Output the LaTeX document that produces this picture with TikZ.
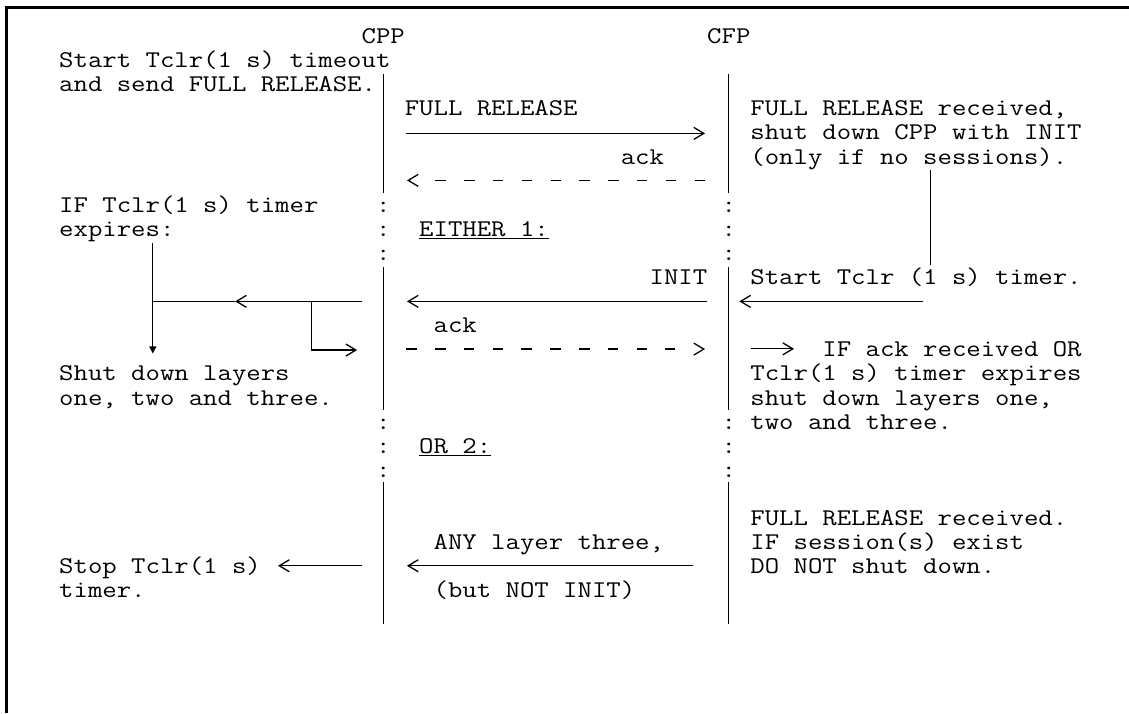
\documentclass[tikz,border=0pt]{standalone}
\usepackage{graphicx}
\usetikzlibrary{arrows.meta}
\newlength\chw
\AtBeginDocument{\settowidth{\chw}{\fontsize{24}{24}\selectfont\ttfamily M}\xdef\sx{\fpeval{14.4/\chw}}}
\newcommand\T[1]{\scalebox{\sx}[1]{#1}}
\tikzset{
  txt/.style={anchor=base west, inner sep=0pt, outer sep=0pt, font=\fontsize{24}{24}\selectfont\ttfamily},
  ln/.style={line width=1.2pt, line cap=butt},
  barb/.style={ln, -{Straight Barb[length=10pt,width=12pt,line width=1.3pt]}},
  dsh/.style={ln, dash pattern=on 10.5pt off 18.3pt},
  tri/.style={ln, -{Triangle[length=7pt,width=7pt]}},
  uline/.style={line width=1.5pt}
}
\begin{document}
\begin{tikzpicture}[x=1pt,y=1pt]
\useasboundingbox (0,0) rectangle (1129,-713);
\draw[line width=3pt] (6.2,-713) -- (6.2,-7.3) -- (1129,-7.3);
\begin{scope}[shift={(59.2pt,-43.5pt)}, x=14.4pt, y=-24.1pt]
% headers
\node[txt] (cpp) at (21,0) {\T{CPP}};
\node[txt] (cfp) at (45,0) {\T{CFP}};
% left column
\node[txt] (l1) at (0,1) {\T{Start Tclr(1 s) timeout}};
\node[txt] (l2) at (0,2) {\T{and send FULL RELEASE.}};
\node[txt] (l7) at (0,7) {\T{IF Tclr(1 s) timer}};
\node[txt] (l8) at (0,8) {\T{expires:}};
\node[txt] (l14) at (0,14) {\T{Shut down layers}};
\node[txt] (l15) at (0,15) {\T{one, two and three.}};
\node[txt] (l22) at (0,22) {\T{Stop Tclr(1 s)}};
\node[txt] (l23) at (0,23) {\T{timer.}};
% middle column
\node[txt] (m3) at (24,3) {\T{FULL RELEASE}};
\node[txt] (m5) at (39,5) {\T{ack}};
\node[txt] (m8) at (25,8) {\T{EITHER 1:}};
\node[txt] (m10) at (41,10) {\T{INIT}};
\node[txt] (m12) at (26,12) {\T{ack}};
\node[txt] (m17) at (25,17) {\T{OR 2:}};
\node[txt] (m21) at (26,21) {\T{ANY layer three,}};
\node[txt] (m23) at (26,23) {\T{(but NOT INIT)}};
% right column
\node[txt] (r3) at (48,3) {\T{FULL RELEASE received,}};
\node[txt] (r4) at (48,4) {\T{shut down CPP with INIT}};
\node[txt] (r5) at (48,5) {\T{(only if no sessions).}};
\node[txt] (r10) at (48,10) {\T{Start Tclr (1 s) timer.}};
\node[txt] (r13) at (53,13) {\T{IF ack received OR}};
\node[txt] (r14) at (48,14) {\T{Tclr(1 s) timer expires}};
\node[txt] (r15) at (48,15) {\T{shut down layers one,}};
\node[txt] (r16) at (48,16) {\T{two and three.}};
\node[txt] (r20) at (48,20) {\T{FULL RELEASE received.}};
\node[txt] (r21) at (48,21) {\T{IF session(s) exist}};
\node[txt] (r22) at (48,22) {\T{DO NOT shut down.}};
% underlines
\draw[uline] ([yshift=-2.4pt]m8.base west) -- ([yshift=-2.4pt]m8.base east);
\draw[uline] ([yshift=-2.2pt]m17.base west) -- ([yshift=-2.2pt]m17.base east);
% lifelines
\coordinate (cppA) at (22.5,1.27); \coordinate (cppB) at (22.5,6.20);
\coordinate (cppC) at (22.5,9.27); \coordinate (cppD) at (22.5,15.21);
\coordinate (cppE) at (22.5,18.2); \coordinate (cppF) at (22.5,24.09);
\coordinate (cfpA) at (46.5,1.27); \coordinate (cfpB) at (46.5,6.20);
\coordinate (cfpC) at (46.5,9.27); \coordinate (cfpD) at (46.5,15.21);
\coordinate (cfpE) at (46.5,18.2); \coordinate (cfpF) at (46.5,24.09);
\draw[ln] (cppA) -- (cppB) (cppC) -- (cppD) (cppE) -- (cppF);
\draw[ln] (cfpA) -- (cfpB) (cfpC) -- (cfpD) (cfpE) -- (cfpF);
\foreach \r in {7,8,9,16,17,18}{
  \node[txt] (cl\r) at (22,\r) {\T{:}};
  \node[txt] (cr\r) at (46,\r) {\T{:}};
}
% FULL RELEASE ->
\coordinate (a1s) at (24.08,3.73); \coordinate (a1e) at (44.85,3.73);
\draw[barb] (a1s) -- (a1e);
% ack dashed <-
\coordinate (a2s) at (44.85,5.68); \coordinate (a2e) at (26.12,5.68);
\coordinate (a2u) at (24.3,5.68); \coordinate (a2t) at (24.15,5.68);
\draw[dsh] (a2s) -- (a2e);
\draw[barb] (a2u) -- (a2t);
% right timer hook
\coordinate (h1) at (60.5,5.25); \coordinate (h2) at (60.5,9.19);
\draw[ln] (h1) -- (h2);
% row 11
\coordinate (a3s) at (45.0,10.7); \coordinate (a3e) at (24.15,10.7);
\draw[barb] (a3s) -- (a3e);
\coordinate (a4s) at (60.0,10.7); \coordinate (a4e) at (47.23,10.7);
\draw[barb] (a4s) -- (a4e);
\coordinate (a5s) at (21.0,10.7); \coordinate (a5m) at (12.22,10.7); \coordinate (a5e) at (6.5,10.7);
\draw[barb] (a5s) -- (a5m);
\draw[ln] (a5m) -- (a5e);
\coordinate (tj) at (17.53,10.7); \coordinate (tk) at (20.69,12.72);
\draw[barb] (tj) |- (tk);
% timer expiry down arrow
\coordinate (d1) at (6.5,8.28); \coordinate (d4) at (6.5,12.86);
\draw[tri] (d1) -- (d4);
% ack dashed ->
\coordinate (a6s) at (24.1,12.68); \coordinate (a6e) at (42.79,12.68);
\coordinate (a6u) at (44.7,12.68); \coordinate (a6t) at (44.85,12.68);
\draw[dsh] (a6s) -- (a6e);
\draw[barb] (a6u) -- (a6t);
\coordinate (a7s) at (48.05,12.67); \coordinate (a7e) at (51.03,12.67);
\draw[barb] (a7s) -- (a7e);
% row 22
\coordinate (a8s) at (21.0,21.67); \coordinate (a8e) at (15.2,21.67);
\draw[barb] (a8s) -- (a8e);
\coordinate (a9s) at (44.0,21.67); \coordinate (a9e) at (24.15,21.67);
\draw[barb] (a9s) -- (a9e);
\end{scope}
\end{tikzpicture}
\end{document}
